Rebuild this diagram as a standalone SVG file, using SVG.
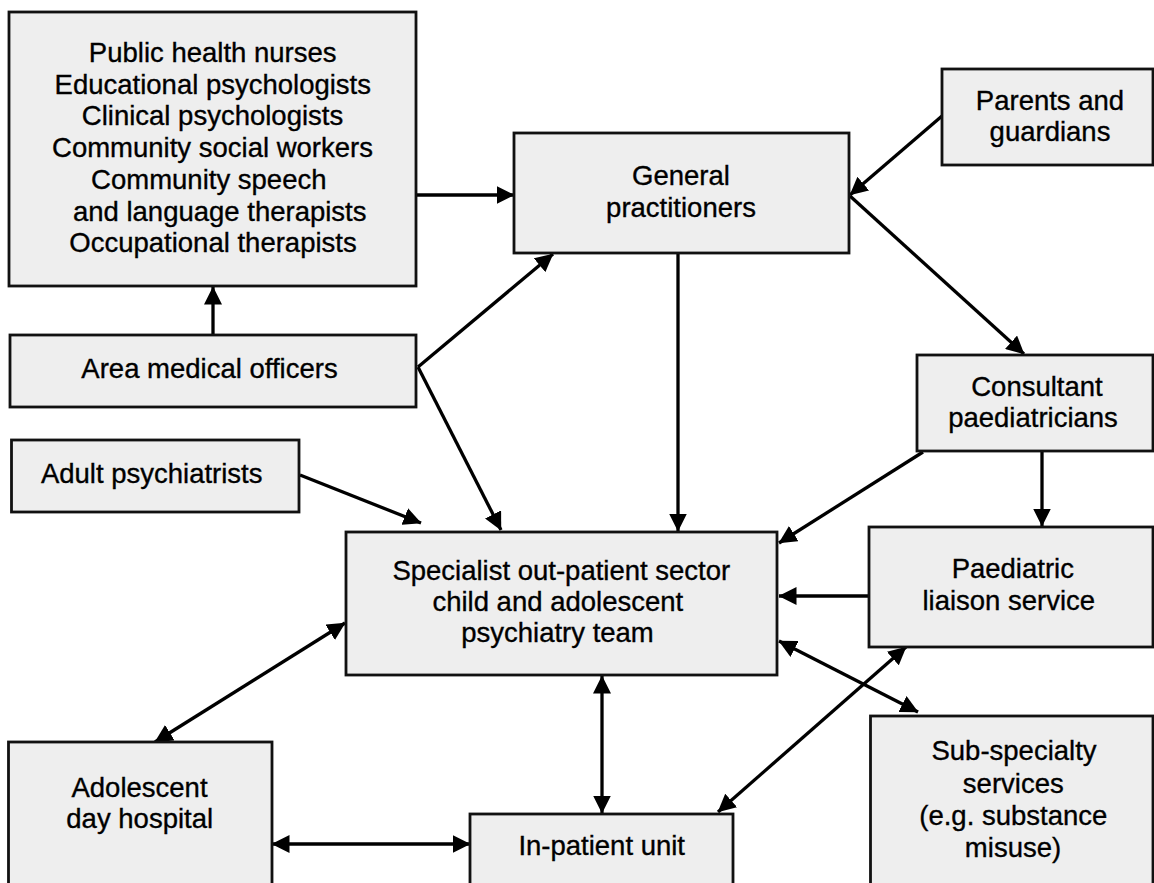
<svg xmlns="http://www.w3.org/2000/svg" width="1154" height="883" viewBox="0 0 1154 883">
<defs>
<style>
.box{fill:#eeeeee;stroke:#111;stroke-width:2.8}
.lbl{font-family:"Liberation Sans",Arial,Helvetica,sans-serif;font-size:27.5px;fill:#000;stroke:#000;stroke-width:0.35;text-anchor:middle}
.con{fill:none;stroke:#000;stroke-width:3.3}
.one{marker-end:url(#ah)}
.two{marker-start:url(#ah);marker-end:url(#ah)}
</style>
<marker id="ah" viewBox="0 0 18 18" markerWidth="18" markerHeight="18" markerUnits="userSpaceOnUse" refX="17.5" refY="9" orient="auto-start-reverse">
<path d="M0,0 L18,9 L0,18 z" fill="#000"/>
</marker>
</defs>
<rect width="1154" height="883" fill="#fff"/>
<g id="connectors">
<line class="con one" x1="213" y1="335" x2="213" y2="287"/>
<line class="con one" x1="416" y1="195" x2="514" y2="195"/>
<line class="con one" x1="418" y1="367" x2="553" y2="254"/>
<line class="con one" x1="418" y1="367" x2="501" y2="530"/>
<line class="con one" x1="300" y1="475" x2="421" y2="523"/>
<line class="con one" x1="942" y1="116" x2="850" y2="195"/>
<line class="con one" x1="850" y1="196" x2="1024" y2="354"/>
<line class="con one" x1="678" y1="253" x2="678" y2="531"/>
<line class="con one" x1="923" y1="452" x2="779" y2="543"/>
<line class="con one" x1="1042" y1="451" x2="1042" y2="526"/>
<line class="con one" x1="869" y1="596" x2="779" y2="596"/>
<line class="con two" x1="779" y1="641" x2="918" y2="712"/>
<line class="con two" x1="718" y1="812" x2="906" y2="647"/>
<line class="con two" x1="602" y1="676" x2="602" y2="813"/>
<line class="con two" x1="345" y1="623" x2="155" y2="742"/>
<line class="con two" x1="272" y1="844" x2="470" y2="844"/>
</g>
<g id="node-community">
<rect class="box" x="9" y="12" width="407" height="274"/>
<text class="lbl" x="212.7" y="62">Public health nurses</text>
<text class="lbl" x="212.8" y="93.5">Educational psychologists</text>
<text class="lbl" x="212.5" y="125">Clinical psychologists</text>
<text class="lbl" x="212.5" y="156.7">Community social workers</text>
<text class="lbl" x="208.8" y="189">Community speech</text>
<text class="lbl" x="219.7" y="220.5">and language therapists</text>
<text class="lbl" x="213" y="251.7">Occupational therapists</text>
</g>
<g id="node-area">
<rect class="box" x="10" y="335" width="406" height="72"/>
<text class="lbl" x="209.5" y="378">Area medical officers</text>
</g>
<g id="node-adult">
<rect class="box" x="11.5" y="440" width="287.5" height="72"/>
<text class="lbl" x="151.7" y="483">Adult psychiatrists</text>
</g>
<g id="node-gp">
<rect class="box" x="514" y="133" width="335" height="120"/>
<text class="lbl" x="681" y="185">General</text>
<text class="lbl" x="681" y="216.7">practitioners</text>
</g>
<g id="node-parents">
<rect class="box" x="942" y="69" width="211" height="96"/>
<text class="lbl" x="1050" y="110">Parents and</text>
<text class="lbl" x="1050" y="140.5">guardians</text>
</g>
<g id="node-consultant">
<rect class="box" x="917" y="355" width="236" height="96"/>
<text class="lbl" x="1037" y="396">Consultant</text>
<text class="lbl" x="1033" y="427.3">paediatricians</text>
</g>
<g id="node-paediatric">
<rect class="box" x="869" y="527" width="284" height="120"/>
<text class="lbl" x="1012.8" y="578.3">Paediatric</text>
<text class="lbl" x="1008.8" y="610">liaison service</text>
</g>
<g id="node-specialist">
<rect class="box" x="346" y="532" width="431" height="143"/>
<text class="lbl" x="561.3" y="580">Specialist out-patient sector</text>
<text class="lbl" x="557.8" y="611">child and adolescent</text>
<text class="lbl" x="557.5" y="642.3">psychiatry team</text>
</g>
<g id="node-subspecialty">
<rect class="box" x="870.5" y="716" width="282.5" height="172"/>
<text class="lbl" x="1014" y="760">Sub-specialty</text>
<text class="lbl" x="1013.3" y="792.7">services</text>
<text class="lbl" x="1013.3" y="825">(e.g. substance</text>
<text class="lbl" x="1013" y="857.3">misuse)</text>
</g>
<g id="node-adolescent">
<rect class="box" x="8.5" y="742" width="263.5" height="150"/>
<text class="lbl" x="139.5" y="796.7">Adolescent</text>
<text class="lbl" x="139.7" y="828.3">day hospital</text>
</g>
<g id="node-inpatient">
<rect class="box" x="470" y="814" width="263" height="80"/>
<text class="lbl" x="601.7" y="855">In-patient unit</text>
</g>
</svg>
